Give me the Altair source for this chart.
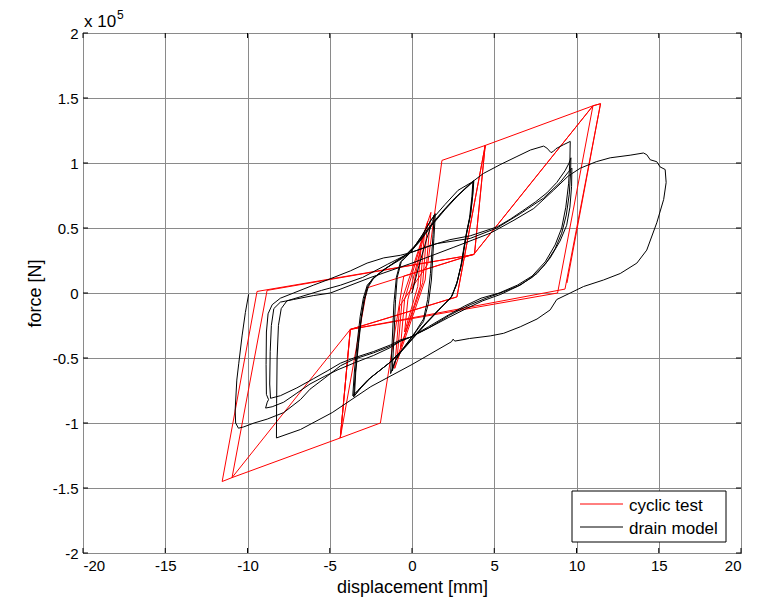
import altair as alt
import pandas as pd

# ---------------- axis ticks ----------------
X_TICKS = [-20, -15, -10, -5, 0, 5, 10, 15, 20]
Y_TICKS = [-2, -1.5, -1, -0.5, 0, 0.5, 1, 1.5, 2]

# ---------------- cyclic test (red), x in mm, force in 1e5 N ----------------
red_path = [
    (0, 0), (0.55, 0.35), (0.35, 0.05), (-0.45, -0.3), (-0.25, -0.05), (0.75, 0.45),
    (0.5, 0.05), (-0.7, -0.42), (-0.45, -0.05), (0.95, 0.55), (0.65, 0.08), (-0.9, -0.5),
    (-0.6, -0.05), (1.15, 0.62), (0.8, 0.1), (-1.05, -0.58), (-0.75, -0.1), (0.95, 0.22),
    (1.82, 1.02), (4.45, 1.135), (3.8, 0.30), (-0.5, 0.13), (-1.92, -1.0), (-4.36, -1.115),
    (-3.75, -0.28), (2.73, -0.03), (4.45, 1.135), (3.8, 0.30), (-2.73, 0.04), (-4.36, -1.115),
    (-3.75, -0.28), (2.73, -0.03), (4.45, 1.135), (11.0, 1.44), (8.85, 0.0), (-3.75, -0.28),
    (-4.36, -1.115), (-10.94, -1.42), (-8.81, 0.02), (3.74, 0.295), (11.0, 1.44), (11.46, 1.456),
    (9.3, 0.03), (-3.75, -0.28), (-10.94, -1.42), (-11.54, -1.45), (-9.42, 0.012), (3.74, 0.295),
    (11.0, 1.44), (11.46, 1.456), (9.42, 0.077),
]

# ---------------- drain model (black) ----------------
blk_small = [
    (0, 0), (0.4, 0.2), (0.9, 0.42), (1.25, 0.55), (1.35, 0.6), (1.28, 0.45), (1.12, 0.15),
    (0.95, -0.05), (0.7, -0.2), (0.2, -0.3), (-0.5, -0.42), (-0.95, -0.5), (-1.2, -0.6),
    (-1.12, -0.4), (-1.0, -0.05), (-0.9, 0.12), (-0.65, 0.24), (-0.1, 0.31), (0.6, 0.44),
    (1.1, 0.55), (1.42, 0.61), (1.33, 0.42), (1.18, 0.1), (1.0, -0.08), (0.7, -0.22),
    (0.1, -0.32), (-0.6, -0.44), (-1.05, -0.53), (-1.3, -0.62), (-1.22, -0.42), (-1.1, -0.08),
    (-0.95, 0.12), (-0.7, 0.24), (-0.1, 0.31), (0.7, 0.46), (1.2, 0.57), (1.45, 0.6),
]
blk_virgin1 = [(1.45, 0.6), (2.0, 0.68), (2.8, 0.79), (3.74, 0.86)]
blk_medium = [
    (3.74, 0.86), (3.68, 0.75), (3.55, 0.6), (3.3, 0.45), (3.0, 0.22), (2.73, 0.08), (2.4, -0.03),
    (1.7, -0.12), (0.8, -0.24), (0.1, -0.34), (-0.6, -0.44), (-1.3, -0.53), (-2.0, -0.6),
    (-2.6, -0.66), (-3.2, -0.74), (-3.55, -0.8), (-3.45, -0.62), (-3.28, -0.4), (-3.1, -0.2),
    (-2.92, -0.05), (-2.7, 0.05), (-2.4, 0.11), (-1.8, 0.17), (-1.0, 0.24), (-0.4, 0.29),
    (0.3, 0.38), (1.0, 0.5), (1.8, 0.62), (2.6, 0.73), (3.3, 0.81), (3.7, 0.855),
    (3.64, 0.74), (3.5, 0.58), (3.26, 0.43), (2.96, 0.2), (2.7, 0.06), (2.35, -0.04),
    (1.6, -0.13), (0.7, -0.25), (0.0, -0.35), (-0.7, -0.45), (-1.4, -0.54), (-2.1, -0.61),
    (-2.7, -0.67), (-3.3, -0.75), (-3.6, -0.79), (-3.5, -0.6), (-3.33, -0.38), (-3.15, -0.18),
    (-2.96, -0.04), (-2.72, 0.06), (-2.3, 0.12), (-1.6, 0.19), (-0.8, 0.25), (-0.2, 0.3),
    (0.5, 0.4), (1.2, 0.52), (2.0, 0.64), (2.8, 0.75), (3.4, 0.82), (3.76, 0.865),
    (3.7, 0.76), (3.57, 0.61), (3.34, 0.47), (3.04, 0.24), (2.76, 0.09), (2.45, -0.02),
    (1.8, -0.11), (0.9, -0.23), (0.2, -0.33), (-0.5, -0.43), (-1.2, -0.52), (-1.9, -0.59),
    (-2.5, -0.65), (-3.1, -0.73), (-3.5, -0.79), (-3.42, -0.61), (-3.25, -0.39), (-3.07, -0.19),
    (-2.88, -0.05), (-2.65, 0.05), (-2.35, 0.11), (-1.7, 0.18), (-0.9, 0.25), (-0.3, 0.3),
    (0.4, 0.39), (1.1, 0.51), (1.9, 0.63), (2.7, 0.74), (3.35, 0.82), (3.72, 0.86),
]
blk_virgin2 = [
    (3.72, 0.86), (4.35, 0.92), (5.4, 0.99), (6.38, 1.05), (7.2, 1.1), (8.0, 1.13), (8.2, 1.115),
    (8.45, 1.08), (8.6, 1.09), (8.75, 1.11), (9.2, 1.14), (9.62, 1.166),
]
blk_cycle1 = [
    (9.62, 1.166), (9.6, 1.02), (9.52, 0.84), (9.35, 0.66), (9.1, 0.5), (8.7, 0.37), (8.1, 0.24),
    (7.3, 0.13), (6.4, 0.06), (5.3, 0.0), (4.2, -0.04), (3.2, -0.1), (2.2, -0.17), (1.0, -0.26),
    (-0.1, -0.34), (-0.7, -0.37), (-1.32, -0.42), (-2.33, -0.48), (-3.55, -0.54), (-4.5, -0.59),
    (-5.3, -0.64), (-6.2, -0.7), (-7.0, -0.77), (-7.8, -0.84), (-8.5, -0.875), (-8.9, -0.885),
    (-8.8, -0.84), (-8.72, -0.82), (-8.85, -0.78), (-8.87, -0.55), (-8.85, -0.3), (-8.75, -0.16),
    (-8.5, -0.09), (-8.0, -0.04), (-7.2, 0.0), (-6.0, 0.06), (-5.16, 0.1), (-3.75, 0.17),
    (-2.73, 0.23), (-1.72, 0.27), (-0.71, 0.29), (-0.1, 0.31), (1.0, 0.36), (2.3, 0.41),
    (3.54, 0.44), (4.5, 0.48), (5.2, 0.51), (6.0, 0.57), (6.7, 0.63), (7.5, 0.7), (8.2, 0.77),
    (8.8, 0.85), (9.3, 0.94), (9.55, 1.0), (9.66, 1.04),
]
blk_cycle2 = [
    (9.66, 1.04), (9.64, 0.92), (9.56, 0.76), (9.38, 0.6), (9.1, 0.46), (8.7, 0.34), (8.1, 0.22),
    (7.3, 0.12), (6.4, 0.05), (5.4, -0.01), (4.3, -0.06), (3.3, -0.12), (2.2, -0.19), (1.0, -0.27),
    (-0.1, -0.34), (-0.7, -0.36), (-1.32, -0.4), (-2.33, -0.45), (-3.55, -0.5), (-4.35, -0.54),
    (-5.16, -0.6), (-6.0, -0.66), (-7.0, -0.73), (-8.0, -0.79), (-8.6, -0.81), (-8.65, -0.7),
    (-8.62, -0.45), (-8.55, -0.25), (-8.4, -0.12), (-8.0, -0.07), (-7.2, -0.05), (-6.0, -0.02),
    (-4.96, 0.0), (-2.5, 0.12), (0.0, 0.23), (2.5, 0.35), (4.76, 0.46), (6.2, 0.56), (7.4, 0.65),
    (8.6, 0.79), (9.5, 0.9), (10.23, 0.96), (11.2, 1.01), (12.05, 1.04), (13.26, 1.06),
    (14.07, 1.077), (14.27, 1.064), (14.48, 1.025), (14.88, 1.01), (15.08, 0.97), (15.39, 0.95),
    (15.45, 0.85), (15.3, 0.72), (14.88, 0.54), (14.27, 0.33), (13.67, 0.23), (12.66, 0.15),
    (11.64, 0.1), (10.43, 0.05), (9.62, 0.0), (8.8, -0.05), (8.4, -0.13), (7.6, -0.2),
    (6.58, -0.26), (5.57, -0.31), (4.76, -0.33), (3.5, -0.35), (2.6, -0.37), (2.5, -0.355),
    (2.4, -0.375), (0.0, -0.55), (-2.5, -0.72), (-4.85, -0.92), (-6.78, -1.05), (-8.24, -1.115),
]
blk_cycle3 = [
    (-8.24, -1.115), (-8.23, -0.85), (-8.2, -0.5), (-8.12, -0.25), (-7.95, -0.12), (-7.6, -0.06),
    (-6.8, -0.03), (-5.5, 0.02), (-4.35, 0.06), (-3.0, 0.12), (-1.5, 0.22), (-0.1, 0.31),
    (1.5, 0.38), (3.54, 0.42), (5.16, 0.5), (6.58, 0.61), (8.0, 0.73), (9.0, 0.85), (9.5, 0.93),
    (9.72, 0.96), (9.7, 0.82), (9.6, 0.66), (9.4, 0.52), (9.0, 0.4), (8.4, 0.27), (7.6, 0.15),
    (6.58, 0.06), (5.57, 0.01), (4.5, -0.04), (3.54, -0.09), (2.3, -0.17), (1.0, -0.27),
    (-0.1, -0.34), (-0.71, -0.37), (-1.32, -0.41), (-2.33, -0.46), (-3.55, -0.51), (-4.35, -0.56),
    (-5.16, -0.64), (-6.2, -0.74), (-6.78, -0.82), (-7.8, -0.92), (-8.8, -0.97), (-9.6, -1.0),
    (-10.23, -1.03), (-10.55, -1.04), (-10.72, -1.0), (-10.75, -0.9), (-10.65, -0.67),
    (-10.53, -0.54), (-10.33, -0.33), (-10.13, -0.15), (-9.93, -0.01),
]


def frame(points):
    return pd.DataFrame({
        "x": [p[0] for p in points],
        "y": [p[1] for p in points],
        "i": list(range(len(points))),
    })


red_df = frame(red_path)
black_df = frame(blk_small + blk_virgin1 + blk_medium + blk_virgin2
                 + blk_cycle1 + blk_cycle2 + blk_cycle3)

W, H = 658, 520
FONT = "Liberation Sans"

x_enc = alt.X(
    "x:Q",
    scale=alt.Scale(domain=[-20, 20], nice=False, zero=False),
    axis=alt.Axis(values=X_TICKS, title="displacement [mm]", labelExpr="'' + datum.value",
                  titleX=W / 2, titleY=39, titleBaseline="alphabetic", titleAlign="center"),
)
y_enc = alt.Y(
    "y:Q",
    scale=alt.Scale(domain=[-2, 2], nice=False, zero=False),
    axis=alt.Axis(values=Y_TICKS, title="force [N]", labelExpr="'' + datum.value",
                  titleX=-48, titleY=H / 2, titleBaseline="middle", titleAlign="center"),
)

red_line = alt.Chart(red_df).mark_line(color="#ff0000", strokeWidth=1).encode(
    x=x_enc, y=y_enc, order=alt.Order("i:Q"))
black_line = alt.Chart(black_df).mark_line(color="#000000", strokeWidth=1).encode(
    x=x_enc, y=y_enc, order=alt.Order("i:Q"))

xt = pd.DataFrame({"x": X_TICKS})
yt = pd.DataFrame({"y": Y_TICKS})
tick_b = alt.Chart(xt).mark_rule(color="black", strokeWidth=1).encode(
    x=x_enc, y=alt.value(H), y2=alt.value(H - 5))
tick_t = alt.Chart(xt).mark_rule(color="black", strokeWidth=1).encode(
    x=x_enc, y=alt.value(0), y2=alt.value(5))
tick_l = alt.Chart(yt).mark_rule(color="black", strokeWidth=1).encode(
    y=y_enc, x=alt.value(0), x2=alt.value(5))
tick_r = alt.Chart(yt).mark_rule(color="black", strokeWidth=1).encode(
    y=y_enc, x=alt.value(W), x2=alt.value(W - 5))

one = pd.DataFrame({"a": [0]})
exp_base = alt.Chart(one).mark_text(text="x 10", font=FONT, fontSize=17, align="left",
                                    baseline="alphabetic", color="black").encode(
    x=alt.value(1), y=alt.value(-6))
exp_sup = alt.Chart(one).mark_text(text="5", font=FONT, fontSize=12, align="left",
                                   baseline="alphabetic", color="black").encode(
    x=alt.value(34), y=alt.value(-14))

leg_box = alt.Chart(one).mark_rect(fill="white", stroke="black", strokeWidth=1).encode(
    x=alt.value(489), x2=alt.value(643), y=alt.value(458), y2=alt.value(509))
leg_red = alt.Chart(one).mark_rule(color="#ff0000", strokeWidth=1).encode(
    x=alt.value(497), x2=alt.value(540), y=alt.value(471))
leg_blk = alt.Chart(one).mark_rule(color="#000000", strokeWidth=1).encode(
    x=alt.value(497), x2=alt.value(540), y=alt.value(494))
leg_t1 = alt.Chart(one).mark_text(text="cyclic test", font=FONT, fontSize=17, align="left",
                                  baseline="middle", color="black").encode(
    x=alt.value(546), y=alt.value(473))
leg_t2 = alt.Chart(one).mark_text(text="drain model", font=FONT, fontSize=17, align="left",
                                  baseline="middle", color="black").encode(
    x=alt.value(546), y=alt.value(496))

chart = alt.layer(
    red_line, black_line, tick_b, tick_t, tick_l, tick_r,
    leg_box, leg_red, leg_blk, leg_t1, leg_t2, exp_base, exp_sup,
).properties(
    width=W, height=H,
    autosize=alt.AutoSizeParams(type="none"),
    padding={"left": 75, "top": 25, "right": 18, "bottom": 44},
    background="white",
).configure_axis(
    grid=True, gridColor="#8a8a8a", gridWidth=1, domain=False, ticks=False,
    labelFont=FONT, labelFontSize=15, labelColor="black",
    titleFont=FONT, titleFontSize=18, titleFontWeight="normal", titleColor="black",
).configure_axisX(labelPadding=5).configure_axisY(labelPadding=5).configure_view(
    stroke="black", strokeWidth=1)

chart.save("out.html", embed_options={"renderer": "svg", "actions": False})
